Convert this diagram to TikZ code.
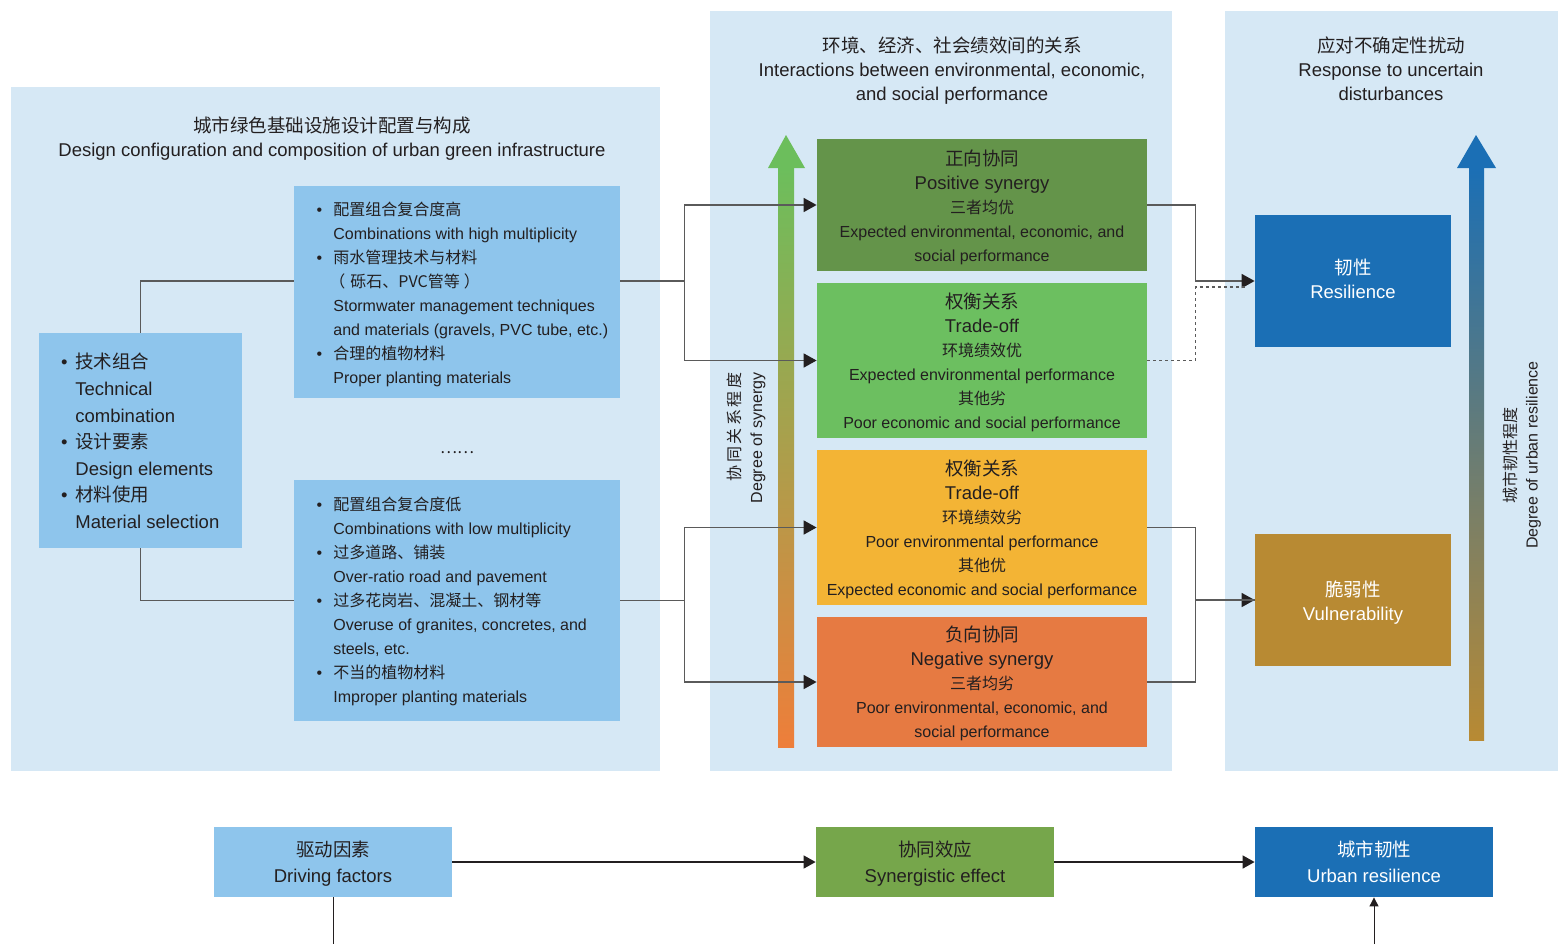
\documentclass[tikz,border=0pt]{standalone}
\usepackage{fontspec}
\setmainfont{Liberation Sans}
\newfontfamily\cjk{Noto Sans CJK SC}
\usetikzlibrary{arrows.meta}

\definecolor{panelbg}{HTML}{D6E8F5}
\definecolor{lightbox}{HTML}{8EC5EC}
\definecolor{posgreen}{HTML}{64944A}
\definecolor{tradegreen}{HTML}{6CBF60}
\definecolor{tradeorange}{HTML}{F3B435}
\definecolor{negorange}{HTML}{E67A42}
\definecolor{resblue}{HTML}{1B6FB5}
\definecolor{vulbrown}{HTML}{B88A33}
\definecolor{syngreen}{HTML}{76A64B}
\definecolor{inkdark}{HTML}{231F20}
\definecolor{linegray}{HTML}{5A5A5A}
\definecolor{arrowgreen}{HTML}{6CBE5C}
\definecolor{arrowyellow}{HTML}{DCB846}
\definecolor{arroworange}{HTML}{EE7E3A}

\newcommand\zhbig{\cjk\fontsize{9.25}{12}\selectfont}
\newcommand\enbig{\fontsize{9.25}{12}\selectfont}
\newcommand\zhsmall{\cjk\fontsize{8}{12}\selectfont}
\newcommand\bul[1][5.6pt]{\llap{\textbullet\hspace{#1}}}

\begin{document}
\begin{tikzpicture}[x=0.5pt, y=-0.5pt,
  font=\fontsize{8}{12}\selectfont, text=inkdark,
  panel/.style={fill=panelbg},
  card/.style={inner sep=0pt, align=center},
  listtxt/.style={inner sep=0pt, align=left, anchor=west},
  conn/.style={draw=linegray, line width=0.8pt},
  arr/.style={conn, -{Triangle[length=6.5pt, width=7pt, color=inkdark]}},
  dotconn/.style={draw=linegray, line width=0.8pt, dash pattern=on 1.5pt off 1.5pt},
  flow/.style={draw=inkdark, line width=0.75pt, -{Triangle[length=6pt, width=6.5pt]}},
  feed/.style={draw=inkdark, line width=0.5pt}]

\useasboundingbox (0,0) rectangle (1568,944);

% background panels
\fill[panel] (11,87) rectangle (660,771);
\fill[panel] (710,11) rectangle (1172,771);
\fill[panel] (1225,11) rectangle (1558,771);

\node[card] (ttldesign) at (332,139) {{\zhbig 城市绿色基础设施设计配置与构成}\\
  {\enbig Design configuration and composition of urban green infrastructure}};
\node[card] (ttlsyn) at (952,71) {{\zhbig 环境、经济、社会绩效间的关系}\\
  {\enbig Interactions between environmental, economic,}\\ {\enbig and social performance}};
\node[card] (ttlres) at (1391,69) {{\zhbig 应对不确定性扰动}\\
  {\enbig Response to uncertain}\\ {\enbig disturbances}};

% design side
\node[card, fill=lightbox, minimum width=101.5pt, minimum height=107.5pt] (tech) at (140.5,440.5) {};
\node[listtxt, font=\fontsize{9.25}{13.3}\selectfont] (techtxt) at (75,441) {%
  \bul[3.9pt]{\cjk 技术组合}\\ Technical\\ combination\\
  \bul[3.9pt]{\cjk 设计要素}\\ Design elements\\
  \bul[3.9pt]{\cjk 材料使用}\\ Material selection};

\node[card, fill=lightbox, minimum width=163pt, minimum height=106pt] (hi) at (457,292) {};
\node[listtxt] (hitxt) at (333,294) {%
  \bul{\zhsmall 配置组合复合度高}\\ Combinations with high multiplicity\\
  \bul{\zhsmall 雨水管理技术与材料}\\ {\zhsmall \hspace{-2pt}（\hspace{2.5pt}砾石、PVC管等\hspace{2pt}）}\\
  Stormwater management techniques\\ and materials (gravels, PVC tube, etc.)\\
  \bul{\zhsmall 合理的植物材料}\\ Proper planting materials};

\node[card] (gap) at (457,453) {\zhsmall ……};

\node[card, fill=lightbox, minimum width=163pt, minimum height=120.5pt] (lo) at (457,600.5) {};
\node[listtxt] (lotxt) at (333,601) {%
  \bul{\zhsmall 配置组合复合度低}\\ Combinations with low multiplicity\\
  \bul{\zhsmall 过多道路、铺装}\\ Over-ratio road and pavement\\
  \bul{\zhsmall 过多花岗岩、混凝土、钢材等}\\ Overuse of granites, concretes, and\\ steels, etc.\\
  \bul{\zhsmall 不当的植物材料}\\ Improper planting materials};

% synergy side
\shade[top color=arrowgreen, middle color=arrowyellow, bottom color=arroworange] (778,168) rectangle (794,747);
\fill[arrowgreen] (768,168) -- (786,135) -- (805,168) -- cycle;
\node[card, rotate=90, align=right, font=\fontsize{8}{11}\selectfont] (synlbl) at (746,438)
  {{\zhsmall\addfontfeature{LetterSpace=16}协同关系程度}\\ Degree of synergy};

\node[card, fill=posgreen, minimum width=165pt, minimum height=66pt] (pos) at (982,205) {};
\node[card] (postxt) at (982,207)
  {{\zhbig 正向协同}\\ {\enbig Positive synergy}\\ {\zhsmall 三者均优}\\
   Expected environmental, economic, and\\ social performance};
\node[card, fill=tradegreen, minimum width=165pt, minimum height=77.5pt] (tg) at (982,360.5) {};
\node[card] (tgtxt) at (982,362)
  {{\zhbig 权衡关系}\\ {\enbig Trade-off}\\ {\zhsmall 环境绩效优}\\
   Expected environmental performance\\ {\zhsmall 其他劣}\\ Poor economic and social performance};
\node[card, fill=tradeorange, minimum width=165pt, minimum height=77.5pt] (to) at (982,527.5) {};
\node[card] (totxt) at (982,529)
  {{\zhbig 权衡关系}\\ {\enbig Trade-off}\\ {\zhsmall 环境绩效劣}\\
   Poor environmental performance\\ {\zhsmall 其他优}\\ Expected economic and social performance};
\node[card, fill=negorange, minimum width=165pt, minimum height=65pt] (neg) at (982,682) {};
\node[card] (negtxt) at (982,683)
  {{\zhbig 负向协同}\\ {\enbig Negative synergy}\\ {\zhsmall 三者均劣}\\
   Poor environmental, economic, and\\ social performance};

% resilience side
\shade[top color=resblue, bottom color=vulbrown] (1469,168) rectangle (1484,740);
\fill[resblue] (1457,168) -- (1476,135) -- (1496,168) -- cycle;
\node[card, rotate=90, font=\fontsize{8}{10.5}\selectfont] (reslbl) at (1522,455)
  {{\zhsmall 城市韧性程度}\\ Degree of urban resilience};

\node[card, fill=resblue, minimum width=98pt, minimum height=66pt] (res) at (1353,281) {};
\node[card, text=white] (restxt) at (1353,279) {{\zhbig 韧性}\\ {\enbig Resilience}};
\node[card, fill=vulbrown, minimum width=98pt, minimum height=66pt] (vul) at (1353,600) {};
\node[card, text=white] (vultxt) at (1353,603) {{\zhbig 脆弱性}\\ {\enbig Vulnerability}};

% connectors
\draw[conn] (tech.north) |- ([yshift=5.5pt]hi.west);
\draw[conn] (tech.south) |- (lo.west);
\draw[arr] ([yshift=5.5pt]hi.east) -- ++(64,0) |- (pos.west);
\draw[arr] ([yshift=5.5pt]hi.east) -- ++(64,0) |- (tg.west);
\draw[arr] (lo.east) -- ++(64,0) |- (to.west);
\draw[arr] (lo.east) -- ++(64,0) |- (neg.west);
\draw[arr] (pos.east) -- ++(48,0) |- (res.west);
\draw[dotconn] (tg.east) -- ++(48,0) |- ([yshift=-3pt, xshift=-5pt]res.west);
\draw[arr] (to.east) -- ++(48,0) |- (vul.west);
\draw[conn] (neg.east) -- ++(48,0) |- (vul.west);

% bottom row
\node[card, fill=lightbox, minimum width=119pt, minimum height=35pt] (drv) at (333,862) {};
\node[card] (drvtxt) at (333,864) {{\zhbig 驱动因素}\\[1pt] {\enbig Driving factors}};
\node[card, fill=syngreen, minimum width=119pt, minimum height=35pt] (syn) at (935,862) {};
\node[card] (syntxt) at (935,864) {{\zhbig 协同效应}\\[1pt] {\enbig Synergistic effect}};
\node[card, fill=resblue, minimum width=119pt, minimum height=35pt] (urb) at (1374,862) {};
\node[card, text=white] (urbtxt) at (1374,862) {{\zhbig 城市韧性}\\[1pt] {\enbig Urban resilience}};
\coordinate (drvout) at (333,944);
\coordinate (urbin) at (1374,944);
\draw[flow] (drv) -- (syn);
\draw[flow] (syn) -- (urb);
\draw[feed] (drv.south) -- (drvout);
\draw[feed, -{Triangle[length=4.5pt, width=4.5pt]}] (urbin) -- (urb.south);
\end{tikzpicture}
\end{document}
